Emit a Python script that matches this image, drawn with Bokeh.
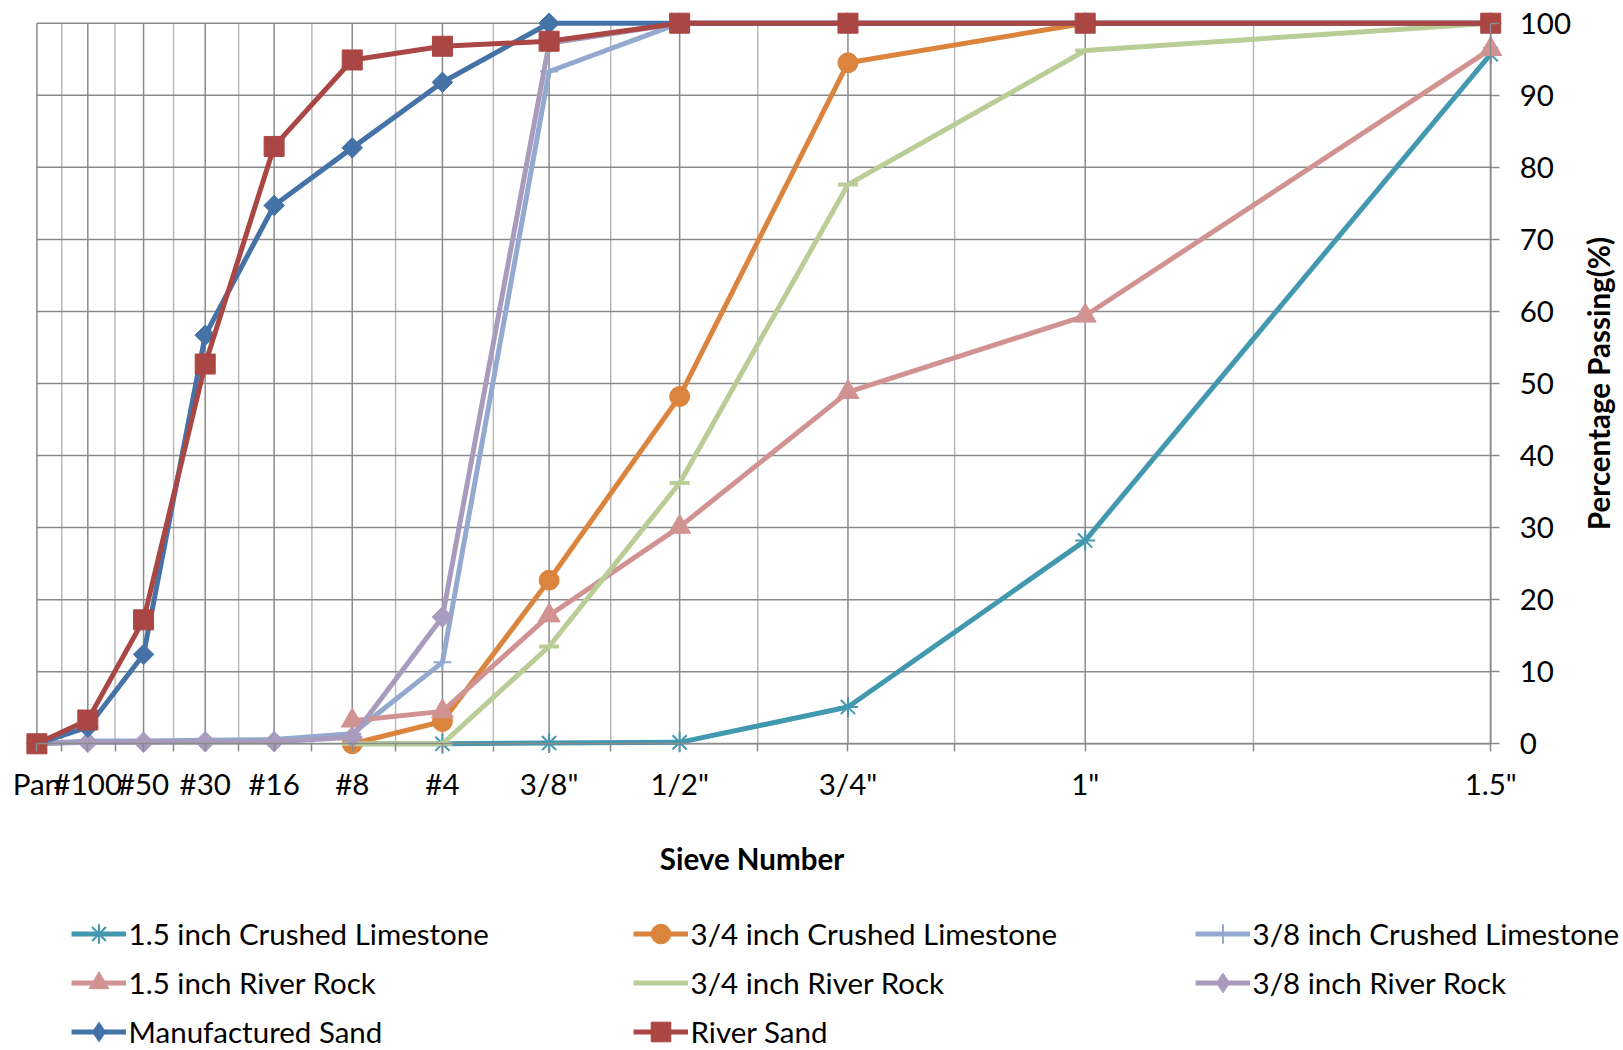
import math
import numpy as np
from bokeh.plotting import figure
from bokeh.models import Range1d, FixedTicker, CustomJSTickFormatter, Legend, LegendItem, Label
from bokeh.embed import file_html
from bokeh.resources import INLINE

nan = float("nan")

# ---- data -------------------------------------------------------------
sieves = ["Pan", "#100", "#50", "#30", "#16", "#8", "#4", '3/8"', '1/2"', '3/4"', '1"', '1.5"']

crushed_15 = [nan, nan, nan, nan, nan, 0.0, 0.0, 0.1, 0.2, 5.1, 28.2, 95.7]
crushed_34 = [nan, nan, nan, nan, nan, 0.0, 3.1, 22.7, 48.2, 94.5, 100, 100]
crushed_38 = [0.0, 0.4, 0.4, 0.5, 0.6, 1.4, 11.3, 93.3, 100, 100, 100, 100]
river_15 = [nan, nan, nan, nan, nan, 3.2, 4.5, 17.8, 30.1, 48.8, 59.4, 96.4]
river_34 = [nan, nan, nan, nan, nan, 0.0, 0.0, 13.5, 36.2, 77.6, 96.2, 100]
river_38 = [0.0, 0.2, 0.2, 0.3, 0.3, 0.9, 17.6, 97.2, 100, 100, 100, 100]
manuf_sand = [0.0, 2.3, 12.4, 56.7, 74.7, 82.7, 91.8, 100, 100, 100, 100, 100]
river_sand = [0.0, 3.3, 17.2, 52.7, 82.9, 94.9, 96.8, 97.5, 100, 100, 100, 100]

series_names = ["1.5 inch Crushed Limestone", "3/4 inch Crushed Limestone", "3/8 inch Crushed Limestone",
                "1.5 inch River Rock", "3/4 inch River Rock", "3/8 inch River Rock",
                "Manufactured Sand", "River Sand"]
series_values = [crushed_15, crushed_34, crushed_38, river_15, river_34, river_38, manuf_sand, river_sand]

y_ticks = list(range(0, 101, 10))

# ---- styles -----------------------------------------------------------
colors = ["#4198AF", "#DB843D", "#93A9CF", "#D19392", "#B9CD96", "#A99BBD", "#4572A7", "#AA4643"]
# (plot marker, size, angle, line width, legend marker)
markers = [("asterisk", 20, 0.0, 2, "asterisk"), ("circle", 20, 0.0, 1, "circle"),
           ("cross", 18, 0.0, 2, "cross"), ("triangle", 22, 0.0, 1, "triangle"),
           ("dash", 20, 0.0, 4, "dash"), ("square", 14.5, np.pi / 4, 1, "diamond"),
           ("square", 14.5, np.pi / 4, 1, "diamond"), ("square", 20, 0.0, 1, "square")]
FONT = "Lato"
FS = "29.5px"
GRID = "#8a8a8a"
GRID_MINOR = "#b9b9b9"
LW = 5

# ---- layout (pixels on the canvas) ---------------------------------------
CW, CH = 1623, 1050
PAN_PX, LAST_PX = 36.4, 1490.2       # x of first / last sieve
TOP_PX, ZERO_PX = 22.7, 743.3        # y of the 100 and 0 lines

n = len(sieves)
xpos = [n - i for i in range(n)]     # reversed log axis: 12 ... 1
xminor = [v - 0.5 for v in xpos[:-1]]

k = (LAST_PX - PAN_PX) / math.log(xpos[0] / xpos[-1])   # px per ln unit
x_start = xpos[0] * math.exp(PAN_PX / k)
x_end = xpos[-1] * math.exp(-(CW - LAST_PX) / k)
ppu = (ZERO_PX - TOP_PX) / (max(y_ticks) - min(y_ticks))
y_end = max(y_ticks) + TOP_PX / ppu
y_start = min(y_ticks) - (CH - ZERO_PX) / ppu
y_lo, y_hi = min(y_ticks), max(y_ticks)

p = figure(width=CW, height=CH, x_axis_type="log", y_axis_location="right",
           x_range=Range1d(x_start, x_end), y_range=Range1d(y_start, y_end),
           output_backend="svg", toolbar_location=None, min_border=0)
p.outline_line_color = None
p.background_fill_color = "white"
p.border_fill_color = "white"
p.xgrid.visible = False
p.ygrid.visible = False

# grid lines limited to the plot area (Pan .. 1.5", 0 .. 100)
p.segment(x0=xminor, x1=xminor, y0=[y_lo] * len(xminor), y1=[y_hi] * len(xminor),
          line_color=GRID_MINOR, line_width=1.5, level="underlay")
p.segment(x0=xpos, x1=xpos, y0=[y_lo] * n, y1=[y_hi] * n,
          line_color=GRID, line_width=1.5, level="underlay")
p.segment(x0=[xpos[0]] * len(y_ticks), x1=[xpos[-1]] * len(y_ticks), y0=y_ticks, y1=y_ticks,
          line_color=GRID, line_width=1.5, level="underlay")

# x axis, fixed on the 0 line
xt = FixedTicker(ticks=xpos, minor_ticks=xminor)
p.xaxis.ticker = xt
p.xaxis.fixed_location = y_lo
p.xaxis.bounds = (xpos[0], xpos[-1])
p.xaxis.formatter = CustomJSTickFormatter(args=dict(labels=sieves, n=n), code="""
const i = n - Math.round(tick);
return (i >= 0 && i < labels.length) ? labels[i] : '';
""")
p.xaxis.axis_line_color = GRID
p.xaxis.axis_line_width = 1.5
p.xaxis.major_tick_line_color = GRID
p.xaxis.minor_tick_line_color = GRID
p.xaxis.major_tick_line_width = 1.5
p.xaxis.minor_tick_line_width = 1.5
p.xaxis.major_tick_out = 8
p.xaxis.major_tick_in = 0
p.xaxis.minor_tick_out = 8
p.xaxis.minor_tick_in = 0
p.xaxis.major_label_standoff = 14
p.xaxis.major_label_text_font = FONT
p.xaxis.major_label_text_font_size = FS
p.xaxis.major_label_text_color = "black"

# y axis, fixed on the last sieve line (right side)
yt = FixedTicker(ticks=y_ticks, minor_ticks=[])
p.yaxis.ticker = yt
p.yaxis.fixed_location = xpos[-1]
p.yaxis.bounds = (y_lo, y_hi)
p.yaxis.axis_line_color = GRID
p.yaxis.axis_line_width = 1.5
p.yaxis.major_tick_line_color = GRID
p.yaxis.major_tick_line_width = 1.5
p.yaxis.major_tick_out = 9
p.yaxis.major_tick_in = 0
p.yaxis.minor_tick_out = 0
p.yaxis.minor_tick_in = 0
p.yaxis.major_label_standoff = 20
p.yaxis.major_label_text_font = FONT
p.yaxis.major_label_text_font_size = FS
p.yaxis.major_label_text_color = "black"

items = []
for name, vals, col, (mk, sz, ang, lw, lmk) in zip(series_names, series_values, colors, markers):
    rl = p.line(xpos, vals, line_color=col, line_width=LW, line_join="round")
    rm = p.scatter(xpos, vals, marker=mk, size=sz, angle=ang, fill_color=col, line_color=col, line_width=lw)
    if lmk != mk:
        # legend-only glyph (no drawable point) so the key shows a diamond
        rm = p.scatter([nan], [nan], marker=lmk, size=sz, fill_color=col, line_color=col, line_width=lw)
    items.append(LegendItem(label=name, renderers=[rl, rm]))

legend = Legend(items=items, ncols=3, orientation="horizontal", location=(70.6, -5.5),
                label_text_font=FONT, label_text_font_size=FS, label_text_color="black",
                glyph_width=55, glyph_height=49, label_height=36, label_standoff=3,
                label_width=504, spacing=0, padding=0, margin=0,
                border_line_color=None, background_fill_alpha=0)
p.add_layout(legend, "center")

p.add_layout(Label(x=751.5, y=CH - 858, x_units="screen", y_units="screen", text="Sieve Number",
                   text_align="center", text_baseline="alphabetic", text_font=FONT,
                   text_font_size=FS, text_font_style="bold", text_color="black"))
p.add_layout(Label(x=1598, y=CH - 383, x_units="screen", y_units="screen", text="Percentage Passing(%)",
                   angle=np.pi / 2, text_align="center", text_baseline="alphabetic", text_font=FONT,
                   text_font_size=FS, text_font_style="bold", text_color="black"))

open("out.html", "w").write(file_html(p, INLINE))
